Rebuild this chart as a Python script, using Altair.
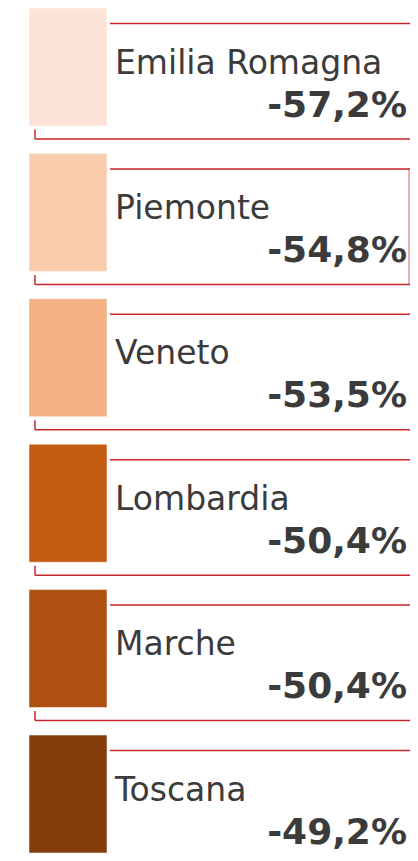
import altair as alt
import pandas as pd

regions = ["Emilia Romagna", "Piemonte", "Veneto", "Lombardia", "Marche", "Toscana"]
values = [-57.2, -54.8, -53.5, -50.4, -50.4, -49.2]
colors = ["#fbe4d6", "#f8cbad", "#f4b183", "#c55a11", "#ae5110", "#843c0c"]

df = pd.DataFrame({
    "region": regions,
    "value": values,
    "color": colors,
    "idx": list(range(len(regions))),
})
df["label"] = [f"{v:.1f}".replace(".", ",") + "%" for v in values]

RED = "#c9252b"
TXT = "#3b3b3b"
FONT = "DejaVu Sans"

STEP = 145.4
yscale = alt.Scale(domain=[0, 6], range=[0, 6 * STEP], nice=False, zero=False)
Y = alt.Y("idx:Q", scale=yscale, axis=None)
Y2 = alt.Y2("idx:Q")

base = alt.Chart(df)

squares = base.mark_rect(yOffset=0, y2Offset=118, stroke="#ffffff", strokeOpacity=0.5, strokeWidth=1).encode(
    x=alt.value(21), x2=alt.value(99), y=Y, y2=Y2,
    color=alt.Color("color:N", scale=None),
)

top_line = base.mark_rule(color=RED, strokeWidth=1.5, yOffset=15.5).encode(
    x=alt.value(102), x2=alt.value(402), y=Y,
)
bottom_line = base.mark_rule(color=RED, strokeWidth=1.5, yOffset=131).encode(
    x=alt.value(27), x2=alt.value(402), y=Y,
)
left_tick = base.mark_rule(color=RED, strokeWidth=1.5, yOffset=121.5, y2Offset=131).encode(
    x=alt.value(27), y=Y, y2=Y2,
)
right_side = base.transform_filter(alt.datum.region == "Piemonte").mark_rule(
    color=RED, strokeWidth=1.2, strokeOpacity=0.6, yOffset=15.5, y2Offset=131
).encode(x=alt.value(401), y=Y, y2=Y2)

names = base.mark_text(align="left", baseline="alphabetic", font=FONT, fontSize=33,
                       color=TXT, yOffset=65.5).encode(
    x=alt.value(107), y=Y, text="region:N",
)
labels = base.mark_text(align="right", baseline="alphabetic", font=FONT, fontSize=36,
                        fontWeight="bold", color=TXT, yOffset=108.5).encode(
    x=alt.value(399), y=Y, text="label:N",
)

chart = alt.layer(squares, top_line, bottom_line, left_tick, right_side, names, labels).properties(
    width=402, height=845, padding=0, autosize=alt.AutoSizeParams(type="none")
).configure_view(stroke=None)

chart.save("out.html", embed_options={"renderer": "svg", "actions": False})
